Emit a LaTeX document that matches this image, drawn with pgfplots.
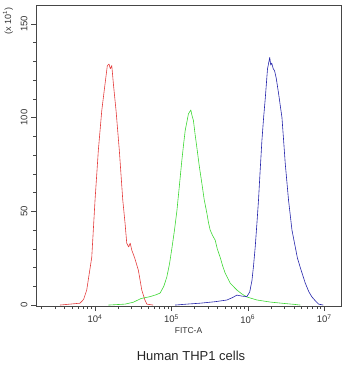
\documentclass[border=0pt]{standalone}
\usepackage{pgfplots}
\pgfplotsset{compat=1.18}
\usepackage{fontspec}
\setmainfont{Liberation Sans}
\definecolor{cred}{RGB}{228,60,60}
\definecolor{cgreen}{RGB}{60,215,50}
\definecolor{cblue}{RGB}{35,35,170}
\definecolor{axgray}{RGB}{70,70,70}
\begin{document}
\begin{tikzpicture}
\begin{axis}[
  at={(36pt,59pt)}, anchor=south west,
  scale only axis, width=305pt, height=301pt,
  xmin=3.227, xmax=7.22, ymin=-0.5, ymax=160,
  axis line style={axgray, line width=0.6pt},
  /pgf/number format/assume math mode=true,
  xtick={4,5,6,7},
  xticklabels={10\textsuperscript{4},10\textsuperscript{5},10\textsuperscript{6},10\textsuperscript{7}},
  minor xtick={3.301,3.477,3.602,3.699,3.778,3.845,3.903,3.954,
               4.301,4.477,4.602,4.699,4.778,4.845,4.903,4.954,
               5.301,5.477,5.602,5.699,5.778,5.845,5.903,5.954,
               6.301,6.477,6.602,6.699,6.778,6.845,6.903,6.954},
  ytick={0,50,100,150},
  minor ytick={10,20,30,40,60,70,80,90,110,120,130,140},
  tick align=outside, xtick pos=lower, ytick pos=left,
  major tick length=5pt, minor tick length=3pt,
  tick style={axgray, line width=0.5pt},
  ticklabel style={font=\fontsize{9.5}{10}\selectfont, text=black!80},
  yticklabel style={rotate=90, anchor=south},
  xlabel={FITC-A},
  xlabel style={font=\fontsize{8.5}{9}\selectfont, text=black!80, yshift=2pt},
  every axis plot/.append style={line width=0.6pt, line join=round},
]
\addplot[cred] coordinates {
(3.541,0) (3.672,0.5) (3.803,1) (3.85,3) (3.891,8) (3.957,25.5) (4.0,56) (4.043,82.4)
(4.088,103.7) (4.131,118) (4.161,127.7) (4.183,128.5) (4.200,126) (4.219,127.7) (4.240,118)
(4.275,103.7) (4.318,82.4) (4.363,56) (4.393,43.6) (4.415,33) (4.440,31) (4.46,33)
(4.481,29.3) (4.52,25) (4.567,18.6) (4.612,8) (4.650,3) (4.678,0.5) (4.76,0)
};
\addplot[cgreen] coordinates {
(4.174,0) (4.393,0.5) (4.5,1.5) (4.603,3.5) (4.721,4.5) (4.80,5.5) (4.852,6.4)
(4.900,10) (4.940,15) (4.975,22) (5.005,30) (5.040,40) (5.071,50) (5.105,64) (5.136,77)
(5.160,86) (5.180,93) (5.223,102) (5.254,104) (5.270,101) (5.288,98.4) (5.310,91)
(5.333,84) (5.365,74) (5.398,65) (5.430,56) (5.464,49) (5.485,44) (5.507,40) (5.54,37)
(5.573,34.6) (5.60,30) (5.638,25.5) (5.670,21) (5.704,17) (5.769,11.7) (5.857,8)
(5.92,6) (5.988,4.3) (6.119,2.7) (6.294,1.6) (6.49,0.8) (6.60,0.4) (6.687,0)
};
\addplot[cblue] coordinates {
(5.048,0) (5.20,0.5) (5.376,1) (5.573,1.8) (5.726,2.7) (5.80,4) (5.857,5.3)
(5.92,4.8) (5.988,4.5) (6.025,7) (6.054,13) (6.075,21) (6.097,31) (6.120,44)
(6.140,56) (6.162,72) (6.185,88) (6.207,100) (6.228,110) (6.258,126) (6.287,132)
(6.300,128) (6.313,129) (6.333,126) (6.350,125) (6.372,121) (6.402,113) (6.447,100)
(6.470,87) (6.490,75.5) (6.533,56) (6.578,40) (6.621,31) (6.650,25) (6.687,20)
(6.752,11.7) (6.800,7) (6.840,4.3) (6.890,2) (6.927,0.5) (6.988,0)
};
\end{axis}
\node[rotate=90, font=\fontsize{9}{9}\selectfont, text=black!80] at (8pt,344pt) {(x 10\textsuperscript{1})};
\node[font=\fontsize{13}{14}\selectfont, text=black!85] at (191pt,9pt) {Human THP1 cells};
\pgfresetboundingbox
\path (0,0) rectangle (350pt,365pt);
\end{tikzpicture}
\end{document}
